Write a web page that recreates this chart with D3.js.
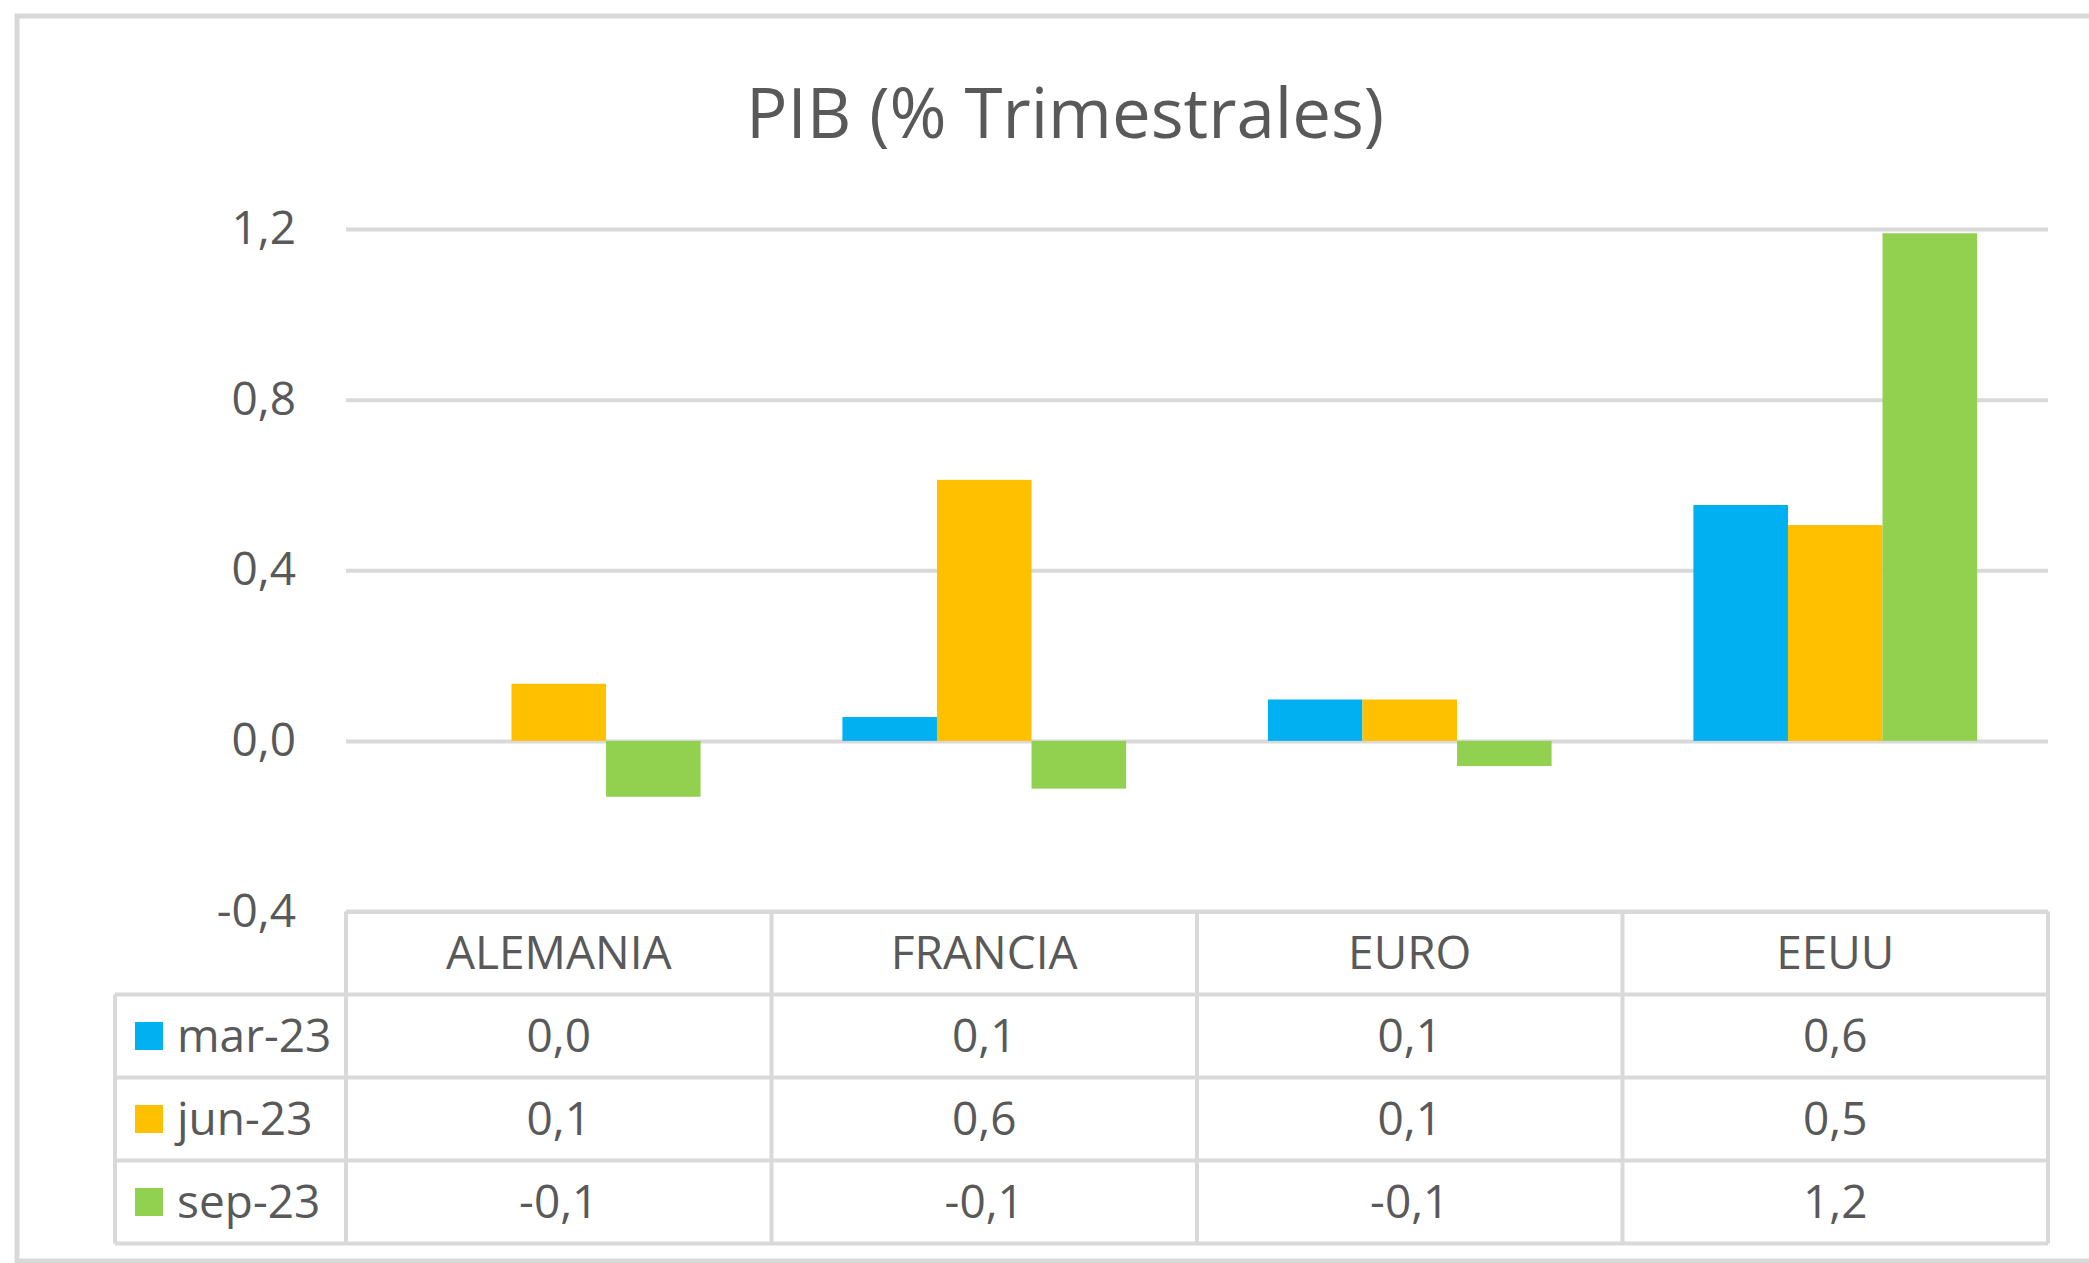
<!DOCTYPE html>
<html>
<head>
<meta charset="utf-8">
<script src="https://cdn.jsdelivr.net/npm/d3@7"></script>
<style>
  body { margin: 0; background: #fff; }
  text { font-family: "Open Sans", "Noto Sans", sans-serif; fill: #595959; }
</style>
</head>
<body>
<div id="chart"></div>
<script>
// data
const categories = ["ALEMANIA", "FRANCIA", "EURO", "EEUU"];
const seriesNames = ["mar-23", "jun-23", "sep-23"];
const mar23 = [0.0, 0.056, 0.097, 0.553];
const jun23 = [0.134, 0.612, 0.097, 0.506];
const sep23 = [-0.131, -0.112, -0.059, 1.19];
const seriesColors = ["#00B0F0", "#FFC000", "#92D050"];
const yTicks = [-0.4, 0, 0.4, 0.8, 1.2];
const title = "PIB (% Trimestrales)";

const allSeries = [mar23, jun23, sep23];

const W = 2089, H = 1263;
const margin = {top: 229, left: 346, right: 41};
const plotBottom = 911.5;
const rowH = 83;
const legendLeft = 115;
const grey = "#d9d9d9";

// comma decimals, plain hyphen minus like the source
const es = d3.formatLocale({decimal: ",", thousands: ".", grouping: [3], currency: ["", "€"], minus: "-"});
const fmt = es.format(".1f");

let svg = d3.select("#chart").append("svg")
    .attr("width", W)
    .attr("height", H);

// outer frame
svg.append("rect")
    .attr("x", 17).attr("y", 16)
    .attr("width", W + 40).attr("height", 1245)
    .attr("fill", "#fff")
    .attr("stroke", grey)
    .attr("stroke-width", 5);

svg.append("text")
    .attr("x", 1065).attr("y", 138)
    .attr("text-anchor", "middle")
    .style("font-size", "69px")
    .text(title);

let x = d3.scaleBand().domain(categories).range([margin.left, W - margin.right]);
let y = d3.scaleLinear().domain([-0.4, 1.2]).range([plotBottom, margin.top]);

// excel style clustered columns, gap width 150%
let barW = x.bandwidth() / 4.5;
let xs = d3.scaleBand().domain(seriesNames)
    .range([barW * 0.75, x.bandwidth() - barW * 0.75]);

// gridlines + y labels
let yAxis = svg.append("g")
    .attr("transform", "translate(" + margin.left + ",0)")
    .call(d3.axisLeft(y).tickValues(yTicks).tickFormat(fmt)
        .tickSizeInner(-(W - margin.right - margin.left)).tickSizeOuter(0).tickPadding(50));
yAxis.select(".domain").remove();
yAxis.selectAll(".tick line").attr("stroke", grey).attr("stroke-width", 4);
yAxis.selectAll(".tick text")
    .style("font-size", "46px")
    .style("font-family", "'Open Sans', 'Noto Sans', sans-serif")
    .attr("fill", "#595959");

// bars
seriesNames.forEach(function(name, si) {
    svg.append("g").selectAll("rect")
        .data(allSeries[si])
        .join("rect")
        .attr("x", (d, i) => x(categories[i]) + xs(name))
        .attr("width", xs.bandwidth())
        .attr("y", d => y(Math.max(0, d)))
        .attr("height", d => Math.abs(y(d) - y(0)))
        .attr("fill", seriesColors[si]);
});

// data table under the plot
let table = svg.append("g");
let right = W - margin.right;
let rowTop = (r) => plotBottom + rowH * r;

// header row
table.selectAll(".head")
    .data(categories)
    .join("text")
    .attr("x", d => x(d) + x.bandwidth() / 2)
    .attr("y", rowTop(0) + rowH / 2)
    .attr("dy", "0.35em")
    .attr("text-anchor", "middle")
    .style("font-size", "46px")
    .text(d => d);

// value rows with legend keys
seriesNames.forEach(function(name, si) {
    let cy = rowTop(si + 1) + rowH / 2;
    table.append("rect")
        .attr("x", 135).attr("y", cy - 14)
        .attr("width", 28).attr("height", 28)
        .attr("fill", seriesColors[si]);
    table.append("text")
        .attr("x", 177).attr("y", cy)
        .attr("dy", "0.35em")
        .style("font-size", "46px")
        .text(name);
    table.selectAll(".v" + si)
        .data(allSeries[si])
        .join("text")
        .attr("x", (d, i) => x(categories[i]) + x.bandwidth() / 2)
        .attr("y", cy)
        .attr("dy", "0.35em")
        .attr("text-anchor", "middle")
        .style("font-size", "46px")
        .text(d => fmt(d));
});

// table borders
let hLines = [
    [margin.left, right, rowTop(0)],
    [legendLeft, right, rowTop(1)],
    [legendLeft, right, rowTop(2)],
    [legendLeft, right, rowTop(3)],
    [legendLeft, right, rowTop(4)]
];
table.selectAll(".hl")
    .data(hLines)
    .join("line")
    .attr("x1", d => d[0]).attr("x2", d => d[1])
    .attr("y1", d => d[2]).attr("y2", d => d[2])
    .attr("stroke", grey).attr("stroke-width", 4);

let vLines = [[legendLeft, rowTop(1)]]
    .concat(categories.map(c => [x(c), rowTop(0)]))
    .concat([[right, rowTop(0)]]);
table.selectAll(".vl")
    .data(vLines)
    .join("line")
    .attr("x1", d => d[0]).attr("x2", d => d[0])
    .attr("y1", d => d[1]).attr("y2", rowTop(4))
    .attr("stroke", grey).attr("stroke-width", 4);
</script>
</body>
</html>
